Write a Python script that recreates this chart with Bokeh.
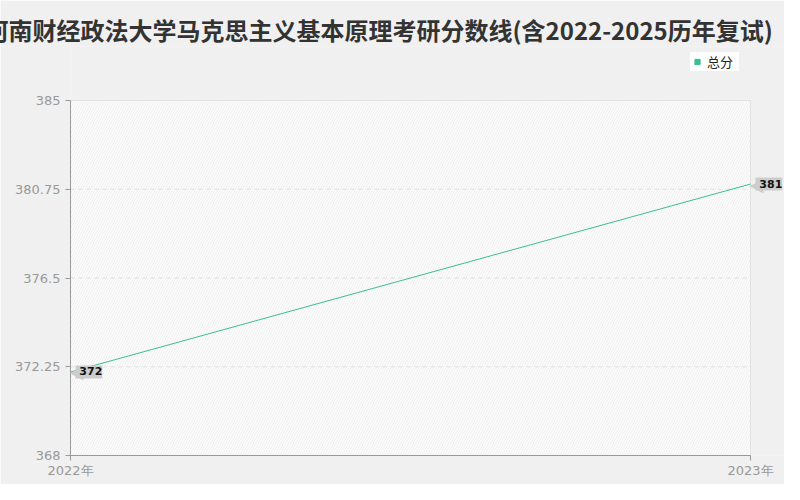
from bokeh.plotting import figure
from bokeh.models import (ColumnDataSource, FixedTicker, LabelSet, Legend, LegendItem,
                          BoxAnnotation, Range1d)
from bokeh.core.properties import value
from bokeh.embed import file_html
from bokeh.resources import INLINE

title_text = "河南财经政法大学马克思主义基本原理考研分数线(含2022-2025历年复试)"
years = [2022, 2023]
x_tick_labels = ["2022年", "2023年"]
scores = [372, 381]
score_labels = ["372", "381"]
series_name = "总分"
y_ticks = [368, 372.25, 376.5, 380.75, 385]
y_tick_labels = ["368", "372.25", "376.5", "380.75", "385"]

LINE = "#3cbf8e"
W, H = 784, 484
F_LEFT, F_TOP, F_BOTTOM = 70, 46, 455   # frame edges (px)
PLOT_RIGHT, PLOT_TOP = 750, 100          # where the last year / top tick sit (px)
LEG_PAD, LEG_ROW = 6, 13

x_span = years[-1] - years[0]
x_end = years[-1] + x_span * (W - PLOT_RIGHT) / (PLOT_RIGHT - F_LEFT)
y_span = y_ticks[-1] - y_ticks[0]
y_end = y_ticks[-1] + y_span * (PLOT_TOP - F_TOP) / (F_BOTTOM - PLOT_TOP)

p = figure(width=W, height=H, output_backend="svg", toolbar_location=None,
           x_range=Range1d(years[0], x_end), y_range=Range1d(y_ticks[0], y_end),
           min_border_left=F_LEFT, min_border_right=0, min_border_top=F_TOP,
           min_border_bottom=H - F_BOTTOM)
p.title.text = title_text
p.title.align = "left"
p.title.offset = -86
p.title.standoff = 0
p.title.text_font = "Noto Sans CJK SC"
p.title.text_font_style = "bold"
p.title.text_font_size = "24px"
p.title.text_color = "#333333"

p.border_fill_color = "#f0f0f0"
p.background_fill_color = "#f0f0f0"
p.outline_line_color = None

p.add_layout(BoxAnnotation(left=years[0], right=years[-1], bottom=y_ticks[0], top=y_ticks[-1],
                           fill_color="#fdfdfd", fill_alpha=1.0,
                           hatch_pattern="/", hatch_color="#eeeeee", hatch_alpha=1.0,
                           hatch_scale=5, hatch_weight=1,
                           line_color="#e2e2e2", line_width=1, line_alpha=1.0,
                           level="underlay"))

for ax in (p.xaxis[0], p.yaxis[0]):
    ax.axis_line_color = "#999999"
    ax.major_tick_line_color = "#999999"
    ax.major_tick_out = 5
    ax.major_tick_in = 0
    ax.minor_tick_line_color = None
    ax.major_label_text_color = "#999999"
    ax.major_label_text_font = "DejaVu Sans"
    ax.major_label_text_font_size = "13px"

p.xaxis.ticker = FixedTicker(ticks=years)
p.xaxis.bounds = (years[0], years[-1])
p.xaxis.major_label_overrides = {y: l for y, l in zip(years, x_tick_labels)}
p.xaxis.major_label_standoff = 2
p.yaxis.ticker = FixedTicker(ticks=y_ticks)
p.yaxis.bounds = (y_ticks[0], y_ticks[-1])
p.yaxis.major_label_overrides = {t: l for t, l in zip(y_ticks, y_tick_labels)}
p.yaxis.major_label_standoff = 5

p.xgrid.grid_line_color = None
p.ygrid.grid_line_color = None
inner = y_ticks[1:-1]
p.segment(x0=[years[0]] * len(inner), x1=[years[-1]] * len(inner), y0=inner, y1=inner,
          line_color="#e0e0e0", line_dash="4 4", line_width=1)

src = ColumnDataSource(dict(x=years, y=scores, label=["\u00a0" + s for s in score_labels],
                            arrow=["◀"] * len(years)))
p.line("x", "y", source=src, line_color=LINE, line_width=1)
marker_r = p.scatter("x", "y", source=src, marker="square", size=6, color=LINE, visible=False)

p.add_layout(LabelSet(x="x", y="y", text="arrow", source=src, x_offset=-1, y_offset=0,
                      text_align="left", text_baseline="middle", text_color="#cccccc",
                      text_font=value("DejaVu Sans"), text_font_size="18px"))
p.add_layout(LabelSet(x="x", y="y", text="label", source=src, x_offset=5, y_offset=0,
                      text_align="left", text_baseline="middle", text_color="#111111",
                      text_font=value("DejaVu Sans"), text_font_size="11px",
                      text_font_style="bold", background_fill_color="#cccccc",
                      background_fill_alpha=1.0))

leg_h = 2 * LEG_PAD + LEG_ROW
legend = Legend(items=[LegendItem(label=series_name, renderers=[marker_r])],
                location=(690 - F_LEFT, F_BOTTOM - F_TOP - leg_h), orientation="horizontal",
                background_fill_color="#ffffff", background_fill_alpha=1.0,
                border_line_color=None,
                padding=LEG_PAD, margin=0, spacing=0, glyph_width=14, glyph_height=LEG_ROW,
                label_height=LEG_ROW, label_width=32, label_standoff=3,
                label_text_font="Noto Sans CJK SC", label_text_font_size="13px",
                label_text_color="#222222")
p.add_layout(legend)

open("out.html", "w").write(file_html(p, INLINE))
